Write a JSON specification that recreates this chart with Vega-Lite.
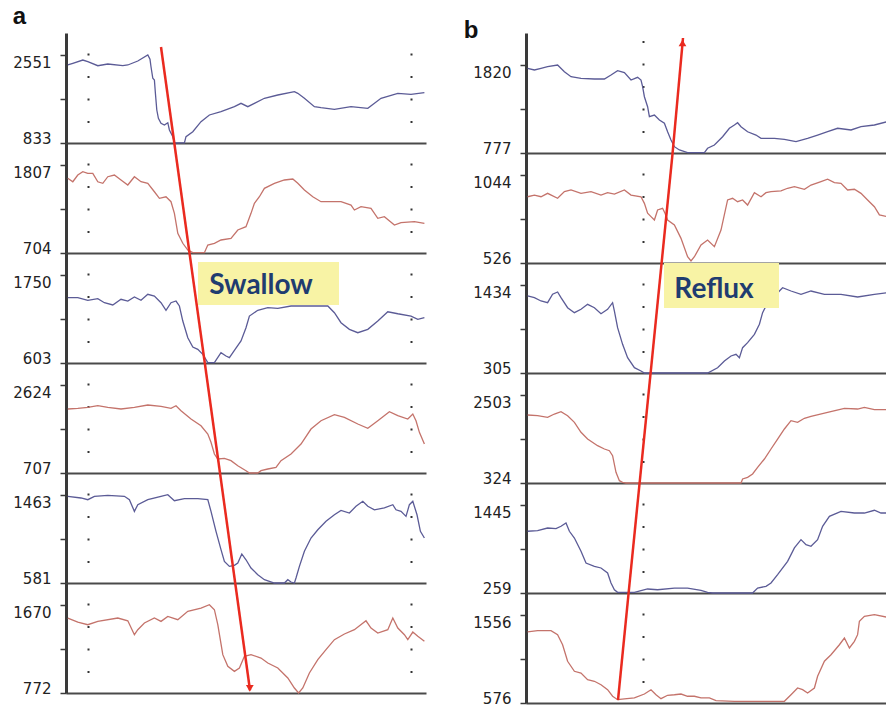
{
"$schema": "https://vega.github.io/schema/vega-lite/v6.json",
"background": "white",
"padding": {"left": 12, "top": 5, "right": 0, "bottom": 0},
"spacing": 36,
"datasets": {
"a1": [{"t":0.19,"v":2356},{"t":0.44,"v":2389},{"t":0.94,"v":2453},{"t":1.19,"v":2420},{"t":1.69,"v":2342},{"t":2.19,"v":2375},{"t":2.94,"v":2342},{"t":3.19,"v":2356},{"t":3.69,"v":2434},{"t":4.19,"v":2551},{"t":4.3,"v":2467},{"t":4.35,"v":2322},{"t":4.44,"v":2096},{"t":4.52,"v":2063},{"t":4.57,"v":1803},{"t":4.64,"v":1477},{"t":4.72,"v":1315},{"t":4.85,"v":1218},{"t":5.02,"v":1184},{"t":5.19,"v":1229},{"t":5.27,"v":1087},{"t":5.44,"v":956},{"t":5.52,"v":835},{"t":6.02,"v":835},{"t":6.1,"v":956},{"t":6.44,"v":1054},{"t":6.85,"v":1249},{"t":7.27,"v":1380},{"t":7.85,"v":1444},{"t":8.52,"v":1542},{"t":8.85,"v":1608},{"t":9.19,"v":1542},{"t":9.52,"v":1608},{"t":10.02,"v":1706},{"t":10.69,"v":1770},{"t":11.52,"v":1834},{"t":11.69,"v":1803},{"t":12.02,"v":1706},{"t":12.52,"v":1542},{"t":12.85,"v":1522},{"t":13.52,"v":1491},{"t":14.35,"v":1542},{"t":15.19,"v":1510},{"t":15.85,"v":1706},{"t":16.69,"v":1803},{"t":17.35,"v":1784},{"t":18.02,"v":1815}],
"a2": [{"t":0.19,"v":1640},{"t":0.44,"v":1597},{"t":0.69,"v":1681},{"t":0.94,"v":1723},{"t":1.19,"v":1703},{"t":1.44,"v":1703},{"t":1.69,"v":1597},{"t":1.94,"v":1577},{"t":2.19,"v":1660},{"t":2.52,"v":1681},{"t":2.85,"v":1619},{"t":3.19,"v":1556},{"t":3.52,"v":1660},{"t":3.85,"v":1597},{"t":4.19,"v":1577},{"t":4.52,"v":1472},{"t":4.77,"v":1389},{"t":5.1,"v":1409},{"t":5.35,"v":1347},{"t":5.52,"v":1201},{"t":5.69,"v":951},{"t":5.94,"v":826},{"t":6.19,"v":741},{"t":6.44,"v":708},{"t":7.02,"v":708},{"t":7.19,"v":804},{"t":7.52,"v":826},{"t":7.85,"v":867},{"t":8.35,"v":888},{"t":8.69,"v":992},{"t":9.1,"v":1034},{"t":9.35,"v":1201},{"t":9.52,"v":1327},{"t":9.77,"v":1409},{"t":10.02,"v":1515},{"t":10.52,"v":1577},{"t":11.02,"v":1619},{"t":11.44,"v":1631},{"t":11.69,"v":1577},{"t":12.02,"v":1493},{"t":12.44,"v":1409},{"t":12.85,"v":1347},{"t":13.85,"v":1347},{"t":14.35,"v":1305},{"t":14.52,"v":1243},{"t":14.85,"v":1284},{"t":15.35,"v":1264},{"t":15.69,"v":1139},{"t":16.02,"v":1159},{"t":16.52,"v":1055},{"t":16.85,"v":1084},{"t":17.52,"v":1096},{"t":18.02,"v":1076}],
"a3": [{"t":0.19,"v":1454},{"t":0.69,"v":1454},{"t":1.19,"v":1420},{"t":1.69,"v":1441},{"t":2.02,"v":1389},{"t":2.44,"v":1359},{"t":2.85,"v":1433},{"t":3.19,"v":1411},{"t":3.52,"v":1463},{"t":3.85,"v":1420},{"t":4.19,"v":1498},{"t":4.52,"v":1476},{"t":4.85,"v":1389},{"t":5.1,"v":1290},{"t":5.35,"v":1389},{"t":5.6,"v":1411},{"t":5.77,"v":1346},{"t":5.94,"v":1150},{"t":6.19,"v":933},{"t":6.44,"v":811},{"t":6.69,"v":781},{"t":6.94,"v":716},{"t":7.19,"v":607},{"t":7.52,"v":607},{"t":7.85,"v":737},{"t":8.1,"v":694},{"t":8.27,"v":672},{"t":8.52,"v":768},{"t":8.85,"v":890},{"t":9.1,"v":1063},{"t":9.27,"v":1215},{"t":9.69,"v":1290},{"t":10.19,"v":1324},{"t":10.69,"v":1316},{"t":11.35,"v":1346},{"t":13.19,"v":1346},{"t":13.52,"v":1258},{"t":13.85,"v":1128},{"t":14.27,"v":1042},{"t":14.69,"v":998},{"t":15.19,"v":1042},{"t":15.69,"v":1150},{"t":16.19,"v":1271},{"t":16.69,"v":1245},{"t":17.35,"v":1215},{"t":17.69,"v":1172},{"t":18.02,"v":1193}],
"a4": [{"t":0.19,"v":2101},{"t":0.69,"v":2116},{"t":1.19,"v":2138},{"t":1.69,"v":2173},{"t":2.19,"v":2138},{"t":2.85,"v":2101},{"t":3.52,"v":2138},{"t":4.19,"v":2188},{"t":4.85,"v":2160},{"t":5.35,"v":2116},{"t":5.6,"v":2173},{"t":5.85,"v":2064},{"t":6.35,"v":1883},{"t":6.85,"v":1737},{"t":7.19,"v":1556},{"t":7.35,"v":1376},{"t":7.52,"v":1121},{"t":7.69,"v":1012},{"t":8.02,"v":1027},{"t":8.35,"v":975},{"t":8.69,"v":866},{"t":9.1,"v":757},{"t":9.27,"v":707},{"t":9.69,"v":707},{"t":9.85,"v":757},{"t":10.19,"v":794},{"t":10.6,"v":831},{"t":10.85,"v":975},{"t":11.35,"v":1121},{"t":11.85,"v":1339},{"t":12.35,"v":1665},{"t":12.85,"v":1846},{"t":13.52,"v":1977},{"t":14.02,"v":1920},{"t":14.69,"v":1774},{"t":15.19,"v":1680},{"t":15.69,"v":1846},{"t":16.27,"v":2042},{"t":16.69,"v":1955},{"t":17.19,"v":1883},{"t":17.44,"v":1992},{"t":17.6,"v":1846},{"t":17.77,"v":1593},{"t":18.02,"v":1339}],
"a5": [{"t":0.19,"v":1450},{"t":0.85,"v":1433},{"t":1.19,"v":1416},{"t":1.52,"v":1450},{"t":2.19,"v":1460},{"t":3.02,"v":1450},{"t":3.27,"v":1416},{"t":3.52,"v":1299},{"t":3.69,"v":1366},{"t":4.19,"v":1416},{"t":4.85,"v":1450},{"t":5.19,"v":1466},{"t":5.52,"v":1406},{"t":6.02,"v":1426},{"t":6.69,"v":1426},{"t":7.19,"v":1416},{"t":7.35,"v":1299},{"t":7.6,"v":1099},{"t":7.85,"v":915},{"t":8.02,"v":798},{"t":8.27,"v":748},{"t":8.52,"v":758},{"t":8.69,"v":781},{"t":8.89,"v":872},{"t":9.1,"v":814},{"t":9.35,"v":731},{"t":9.69,"v":664},{"t":10.02,"v":614},{"t":10.27,"v":598},{"t":10.52,"v":581},{"t":11.02,"v":581},{"t":11.19,"v":614},{"t":11.35,"v":591},{"t":11.52,"v":581},{"t":11.6,"v":631},{"t":11.77,"v":748},{"t":12.02,"v":899},{"t":12.35,"v":1032},{"t":12.69,"v":1115},{"t":13.1,"v":1199},{"t":13.52,"v":1265},{"t":13.85,"v":1309},{"t":14.27,"v":1282},{"t":14.6,"v":1350},{"t":14.94,"v":1400},{"t":15.19,"v":1350},{"t":15.52,"v":1315},{"t":16.02,"v":1333},{"t":16.44,"v":1366},{"t":16.6,"v":1315},{"t":16.85,"v":1299},{"t":17.1,"v":1249},{"t":17.27,"v":1366},{"t":17.44,"v":1400},{"t":17.65,"v":1265},{"t":17.82,"v":1099},{"t":18.02,"v":1032}],
"a6": [{"t":0.19,"v":1537},{"t":0.69,"v":1496},{"t":1.19,"v":1469},{"t":1.69,"v":1503},{"t":2.69,"v":1537},{"t":3.19,"v":1509},{"t":3.52,"v":1367},{"t":3.69,"v":1418},{"t":4.02,"v":1486},{"t":4.52,"v":1537},{"t":4.85,"v":1503},{"t":5.19,"v":1554},{"t":5.69,"v":1520},{"t":6.19,"v":1605},{"t":6.85,"v":1639},{"t":7.27,"v":1673},{"t":7.52,"v":1622},{"t":7.69,"v":1469},{"t":7.94,"v":1163},{"t":8.19,"v":1044},{"t":8.52,"v":993},{"t":8.77,"v":1027},{"t":9.02,"v":1146},{"t":9.35,"v":1163},{"t":9.85,"v":1129},{"t":10.19,"v":1078},{"t":10.69,"v":1027},{"t":11.19,"v":925},{"t":11.52,"v":823},{"t":11.73,"v":772},{"t":11.94,"v":823},{"t":12.27,"v":976},{"t":12.69,"v":1112},{"t":13.1,"v":1214},{"t":13.52,"v":1316},{"t":14.02,"v":1374},{"t":14.52,"v":1418},{"t":15.1,"v":1509},{"t":15.35,"v":1435},{"t":15.69,"v":1384},{"t":16.19,"v":1418},{"t":16.44,"v":1537},{"t":16.69,"v":1435},{"t":17.02,"v":1367},{"t":17.19,"v":1316},{"t":17.44,"v":1394},{"t":17.69,"v":1350},{"t":18.02,"v":1299}],
"b1": [{"t":0.23,"v":1780},{"t":0.57,"v":1761},{"t":0.9,"v":1780},{"t":1.23,"v":1800},{"t":1.73,"v":1820},{"t":2.07,"v":1740},{"t":2.4,"v":1681},{"t":2.9,"v":1662},{"t":3.57,"v":1654},{"t":4.07,"v":1654},{"t":4.4,"v":1701},{"t":4.73,"v":1752},{"t":5.07,"v":1729},{"t":5.4,"v":1642},{"t":5.73,"v":1674},{"t":5.9,"v":1642},{"t":5.98,"v":1563},{"t":6.07,"v":1444},{"t":6.23,"v":1326},{"t":6.32,"v":1207},{"t":6.57,"v":1227},{"t":6.82,"v":1168},{"t":7.07,"v":1129},{"t":7.23,"v":1029},{"t":7.4,"v":931},{"t":7.57,"v":852},{"t":7.82,"v":813},{"t":8.23,"v":781},{"t":9.07,"v":781},{"t":9.23,"v":833},{"t":9.57,"v":872},{"t":9.98,"v":970},{"t":10.32,"v":1070},{"t":10.57,"v":1109},{"t":10.73,"v":1136},{"t":10.9,"v":1089},{"t":11.23,"v":1029},{"t":11.65,"v":990},{"t":11.9,"v":951},{"t":12.57,"v":951},{"t":13.07,"v":939},{"t":13.65,"v":911},{"t":14.23,"v":951},{"t":14.73,"v":990},{"t":15.23,"v":1029},{"t":15.73,"v":1070},{"t":16.4,"v":1050},{"t":16.9,"v":1089},{"t":17.57,"v":1109},{"t":18.2,"v":1148}],
"b2": [{"t":0.23,"v":916},{"t":0.57,"v":926},{"t":0.9,"v":916},{"t":1.23,"v":936},{"t":1.73,"v":907},{"t":2.07,"v":946},{"t":2.4,"v":956},{"t":2.9,"v":936},{"t":3.4,"v":946},{"t":3.9,"v":926},{"t":4.23,"v":940},{"t":4.57,"v":932},{"t":5.07,"v":956},{"t":5.4,"v":926},{"t":5.9,"v":916},{"t":6.07,"v":877},{"t":6.23,"v":819},{"t":6.4,"v":799},{"t":6.57,"v":779},{"t":6.73,"v":838},{"t":6.98,"v":848},{"t":7.1,"v":819},{"t":7.23,"v":779},{"t":7.57,"v":750},{"t":7.9,"v":671},{"t":8.23,"v":563},{"t":8.4,"v":538},{"t":8.57,"v":563},{"t":8.9,"v":632},{"t":9.23,"v":661},{"t":9.57,"v":622},{"t":9.9,"v":720},{"t":10.23,"v":897},{"t":10.48,"v":907},{"t":10.73,"v":887},{"t":10.98,"v":897},{"t":11.23,"v":867},{"t":11.57,"v":940},{"t":11.9,"v":916},{"t":12.15,"v":940},{"t":12.4,"v":946},{"t":12.9,"v":950},{"t":13.23,"v":966},{"t":13.57,"v":975},{"t":14.07,"v":960},{"t":14.4,"v":985},{"t":14.9,"v":1005},{"t":15.23,"v":1019},{"t":15.57,"v":999},{"t":15.9,"v":995},{"t":16.23,"v":956},{"t":16.57,"v":960},{"t":16.9,"v":936},{"t":17.23,"v":897},{"t":17.57,"v":857},{"t":17.82,"v":809},{"t":18.2,"v":799}],
"b3": [{"t":0.23,"v":1293},{"t":0.57,"v":1271},{"t":0.9,"v":1229},{"t":1.23,"v":1207},{"t":1.48,"v":1315},{"t":1.73,"v":1344},{"t":1.9,"v":1271},{"t":2.23,"v":1143},{"t":2.57,"v":1079},{"t":2.9,"v":1122},{"t":3.23,"v":1186},{"t":3.57,"v":1143},{"t":3.9,"v":1066},{"t":4.23,"v":1122},{"t":4.48,"v":1207},{"t":4.57,"v":1100},{"t":4.73,"v":886},{"t":4.98,"v":673},{"t":5.23,"v":501},{"t":5.57,"v":373},{"t":5.9,"v":331},{"t":6.07,"v":305},{"t":9.23,"v":305},{"t":9.73,"v":373},{"t":10.07,"v":459},{"t":10.4,"v":523},{"t":10.65,"v":545},{"t":10.82,"v":501},{"t":10.98,"v":630},{"t":11.23,"v":694},{"t":11.57,"v":801},{"t":11.82,"v":930},{"t":11.98,"v":1079},{"t":12.15,"v":1165},{"t":12.82,"v":1357},{"t":12.98,"v":1399},{"t":13.4,"v":1357},{"t":13.9,"v":1315},{"t":14.4,"v":1357},{"t":15.07,"v":1315},{"t":15.9,"v":1315},{"t":16.73,"v":1280},{"t":17.57,"v":1315},{"t":18.2,"v":1335}],
"b4": [{"t":0.23,"v":2008},{"t":0.73,"v":1990},{"t":1.23,"v":1951},{"t":1.57,"v":2032},{"t":1.9,"v":2089},{"t":2.23,"v":1990},{"t":2.57,"v":1827},{"t":2.9,"v":1579},{"t":3.23,"v":1413},{"t":3.73,"v":1248},{"t":4.07,"v":1166},{"t":4.32,"v":1124},{"t":4.48,"v":1000},{"t":4.65,"v":589},{"t":4.82,"v":381},{"t":4.98,"v":341},{"t":5.15,"v":324},{"t":10.9,"v":324},{"t":10.98,"v":423},{"t":11.23,"v":465},{"t":11.48,"v":547},{"t":11.73,"v":713},{"t":12.07,"v":918},{"t":12.4,"v":1166},{"t":12.73,"v":1413},{"t":13.07,"v":1661},{"t":13.4,"v":1867},{"t":13.73,"v":1827},{"t":14.07,"v":1926},{"t":14.4,"v":1976},{"t":15.23,"v":2075},{"t":16.07,"v":2174},{"t":16.73,"v":2156},{"t":17.07,"v":2198},{"t":17.57,"v":2139},{"t":18.2,"v":2139}],
"b5": [{"t":0.23,"v":1091},{"t":0.73,"v":1099},{"t":1.23,"v":1135},{"t":1.65,"v":1126},{"t":1.9,"v":1158},{"t":2.15,"v":1203},{"t":2.32,"v":1091},{"t":2.57,"v":1000},{"t":2.9,"v":821},{"t":3.15,"v":663},{"t":3.57,"v":619},{"t":3.9,"v":596},{"t":4.23,"v":529},{"t":4.4,"v":394},{"t":4.57,"v":303},{"t":4.73,"v":268},{"t":5.57,"v":268},{"t":6.23,"v":313},{"t":6.73,"v":303},{"t":7.57,"v":326},{"t":8.23,"v":326},{"t":8.9,"v":295},{"t":9.23,"v":268},{"t":9.48,"v":259},{"t":11.48,"v":259},{"t":11.73,"v":326},{"t":12.15,"v":349},{"t":12.4,"v":394},{"t":12.73,"v":506},{"t":13.23,"v":686},{"t":13.57,"v":866},{"t":13.9,"v":978},{"t":14.15,"v":910},{"t":14.4,"v":889},{"t":14.73,"v":978},{"t":14.98,"v":1158},{"t":15.32,"v":1293},{"t":15.9,"v":1360},{"t":16.57,"v":1337},{"t":17.07,"v":1337},{"t":17.57,"v":1374},{"t":17.9,"v":1337},{"t":18.2,"v":1337}],
"b6": [{"t":0.23,"v":1367},{"t":0.73,"v":1381},{"t":1.4,"v":1381},{"t":1.73,"v":1337},{"t":1.98,"v":1225},{"t":2.23,"v":1041},{"t":2.57,"v":929},{"t":2.9,"v":910},{"t":3.23,"v":836},{"t":3.57,"v":818},{"t":3.9,"v":780},{"t":4.23,"v":724},{"t":4.48,"v":651},{"t":4.73,"v":613},{"t":5.07,"v":621},{"t":5.57,"v":632},{"t":6.07,"v":676},{"t":6.4,"v":724},{"t":6.65,"v":668},{"t":6.9,"v":624},{"t":7.23,"v":662},{"t":7.57,"v":668},{"t":7.9,"v":676},{"t":8.23,"v":651},{"t":8.57,"v":651},{"t":8.9,"v":632},{"t":9.32,"v":632},{"t":9.65,"v":602},{"t":10.57,"v":595},{"t":13.07,"v":595},{"t":13.4,"v":668},{"t":13.73,"v":743},{"t":13.98,"v":724},{"t":14.23,"v":687},{"t":14.57,"v":743},{"t":14.73,"v":873},{"t":15.07,"v":1041},{"t":15.4,"v":1114},{"t":15.82,"v":1225},{"t":16.07,"v":1300},{"t":16.32,"v":1189},{"t":16.57,"v":1263},{"t":16.73,"v":1337},{"t":16.82,"v":1486},{"t":17.07,"v":1542},{"t":17.57,"v":1560},{"t":18.2,"v":1531}]
},
"hconcat": [
{
"title": {"text": "a", "anchor": "start", "frame": "bounds", "font": "Liberation Sans", "fontSize": 24, "fontWeight": "bold", "color": "#111", "offset": 4},
"spacing": 0,
"bounds": "flush",
"vconcat": [
{"width": 360, "height": 110, "layer": [
 {"data": {"name": "a1"}, "mark": {"type": "line", "color": "#5b5b96", "strokeWidth": 1.3},
  "encoding": {"x": {"field": "t", "type": "quantitative", "scale": {"domain": [0.1, 18.1], "nice": false, "zero": false}, "axis": {"values": [1.2, 17.35]}},
   "y": {"field": "v", "type": "quantitative", "scale": {"domain": [833, 2980.5], "nice": false, "zero": false}, "axis": {"values": [833, 1262.5, 1692, 2121.5, 2551], "labelExpr": "datum.index == 0 || datum.index == 1 ? format(datum.value, 'd') : ''", "labelBaseline": {"condition": {"test": "datum.index == 1", "value": "top"}, "value": "alphabetic"}}}}},
 {"data": {"values": [{"t": 4.85, "v": 2707, "t2": 5.515, "v2": 833}]}, "mark": {"type": "rule", "color": "#ea2a1f", "strokeWidth": 2.5},
  "encoding": {"x": {"field": "t", "type": "quantitative"}, "y": {"field": "v", "type": "quantitative"}, "x2": {"field": "t2"}, "y2": {"field": "v2"}}}
]},
{"width": 360, "height": 110, "layer": [
 {"data": {"name": "a2"}, "mark": {"type": "line", "color": "#c4736b", "strokeWidth": 1.3},
  "encoding": {"x": {"field": "t", "type": "quantitative", "scale": {"domain": [0.1, 18.1], "nice": false, "zero": false}, "axis": {"values": [1.2, 17.35]}},
   "y": {"field": "v", "type": "quantitative", "scale": {"domain": [704, 2082.75], "nice": false, "zero": false}, "axis": {"values": [704, 979.75, 1255.5, 1531.25, 1807], "labelExpr": "datum.index == 0 || datum.index == 1 ? format(datum.value, 'd') : ''", "labelBaseline": {"condition": {"test": "datum.index == 1", "value": "top"}, "value": "alphabetic"}}}}},
 {"data": {"values": [{"t": 5.515, "v": 2082.75, "t2": 6.275, "v2": 704}]}, "mark": {"type": "rule", "color": "#ea2a1f", "strokeWidth": 2.5},
  "encoding": {"x": {"field": "t", "type": "quantitative"}, "y": {"field": "v", "type": "quantitative"}, "x2": {"field": "t2"}, "y2": {"field": "v2"}}}
]},
{"width": 360, "height": 110, "layer": [
 {"data": {"name": "a3"}, "mark": {"type": "line", "color": "#5b5b96", "strokeWidth": 1.3},
  "encoding": {"x": {"field": "t", "type": "quantitative", "scale": {"domain": [0.1, 18.1], "nice": false, "zero": false}, "axis": {"values": [1.2, 17.35]}},
   "y": {"field": "v", "type": "quantitative", "scale": {"domain": [603, 2036.75], "nice": false, "zero": false}, "axis": {"values": [603, 889.75, 1176.5, 1463.25, 1750], "labelExpr": "datum.index == 0 || datum.index == 1 ? format(datum.value, 'd') : ''", "labelBaseline": {"condition": {"test": "datum.index == 1", "value": "top"}, "value": "alphabetic"}}}}},
 {"data": {"values": [{"t": 6.7, "v": 1919, "t2": 13.75, "v2": 1359}]}, "mark": {"type": "rect", "color": "#f8f3a5", "opacity": 1},
  "encoding": {"x": {"field": "t", "type": "quantitative"}, "y": {"field": "v", "type": "quantitative"}, "x2": {"field": "t2"}, "y2": {"field": "v2"}}},
 {"data": {"values": [{"t": 9.85, "v": 1607, "label": "Swallow"}]}, "mark": {"type": "text", "font": "Lato", "fontWeight": "bold", "fontSize": 28, "color": "#1f3c70"},
  "encoding": {"x": {"field": "t", "type": "quantitative"}, "y": {"field": "v", "type": "quantitative"}, "text": {"field": "label"}}},
 {"data": {"values": [{"t": 6.275, "v": 2036.75, "t2": 7.04, "v2": 603}]}, "mark": {"type": "rule", "color": "#ea2a1f", "strokeWidth": 2.5},
  "encoding": {"x": {"field": "t", "type": "quantitative"}, "y": {"field": "v", "type": "quantitative"}, "x2": {"field": "t2"}, "y2": {"field": "v2"}}}
]},
{"width": 360, "height": 110, "layer": [
 {"data": {"name": "a4"}, "mark": {"type": "line", "color": "#c4736b", "strokeWidth": 1.3},
  "encoding": {"x": {"field": "t", "type": "quantitative", "scale": {"domain": [0.1, 18.1], "nice": false, "zero": false}, "axis": {"values": [1.2, 17.35]}},
   "y": {"field": "v", "type": "quantitative", "scale": {"domain": [707, 3103.25], "nice": false, "zero": false}, "axis": {"values": [707, 1186.25, 1665.5, 2144.75, 2624], "labelExpr": "datum.index == 0 || datum.index == 1 ? format(datum.value, 'd') : ''", "labelBaseline": {"condition": {"test": "datum.index == 1", "value": "top"}, "value": "alphabetic"}}}}},
 {"data": {"values": [{"t": 7.04, "v": 3103.25, "t2": 7.8, "v2": 707}]}, "mark": {"type": "rule", "color": "#ea2a1f", "strokeWidth": 2.5},
  "encoding": {"x": {"field": "t", "type": "quantitative"}, "y": {"field": "v", "type": "quantitative"}, "x2": {"field": "t2"}, "y2": {"field": "v2"}}}
]},
{"width": 360, "height": 110, "layer": [
 {"data": {"name": "a5"}, "mark": {"type": "line", "color": "#5b5b96", "strokeWidth": 1.3},
  "encoding": {"x": {"field": "t", "type": "quantitative", "scale": {"domain": [0.1, 18.1], "nice": false, "zero": false}, "axis": {"values": [1.2, 17.35]}},
   "y": {"field": "v", "type": "quantitative", "scale": {"domain": [581, 1683.5], "nice": false, "zero": false}, "axis": {"values": [581, 801.5, 1022, 1242.5, 1463], "labelExpr": "datum.index == 0 || datum.index == 1 ? format(datum.value, 'd') : ''", "labelBaseline": {"condition": {"test": "datum.index == 1", "value": "top"}, "value": "alphabetic"}}}}},
 {"data": {"values": [{"t": 7.8, "v": 1683.5, "t2": 8.56, "v2": 581}]}, "mark": {"type": "rule", "color": "#ea2a1f", "strokeWidth": 2.5},
  "encoding": {"x": {"field": "t", "type": "quantitative"}, "y": {"field": "v", "type": "quantitative"}, "x2": {"field": "t2"}, "y2": {"field": "v2"}}}
]},
{"width": 360, "height": 110, "layer": [
 {"data": {"name": "a6"}, "mark": {"type": "line", "color": "#c4736b", "strokeWidth": 1.3},
  "encoding": {"x": {"field": "t", "type": "quantitative", "scale": {"domain": [0.1, 18.1], "nice": false, "zero": false}, "axis": {"values": [1.2, 17.35]}},
   "y": {"field": "v", "type": "quantitative", "scale": {"domain": [772, 1894.5], "nice": false, "zero": false}, "axis": {"values": [772, 996.5, 1221, 1445.5, 1670], "labelExpr": "datum.index == 0 || datum.index == 1 ? format(datum.value, 'd') : ''", "labelBaseline": {"condition": {"test": "datum.index == 1", "value": "top"}, "value": "alphabetic"}}}}},
 {"data": {"values": [{"t": 8.56, "v": 1894.5, "t2": 9.3, "v2": 800}]}, "mark": {"type": "rule", "color": "#ea2a1f", "strokeWidth": 2.5},
  "encoding": {"x": {"field": "t", "type": "quantitative"}, "y": {"field": "v", "type": "quantitative"}, "x2": {"field": "t2"}, "y2": {"field": "v2"}}},
 {"data": {"values": [{"t": 9.29, "v": 820}]}, "mark": {"type": "point", "shape": "triangle-down", "filled": true, "color": "#ea2a1f", "size": 60, "opacity": 1},
  "encoding": {"x": {"field": "t", "type": "quantitative"}, "y": {"field": "v", "type": "quantitative"}}}
]}
]
},
{
"title": {"text": "b", "anchor": "start", "frame": "bounds", "font": "Liberation Sans", "fontSize": 24, "fontWeight": "bold", "color": "#111", "offset": 4, "dy": 14, "dx": -9},
"spacing": 0,
"bounds": "flush",
"vconcat": [
{"width": 361, "height": 120, "layer": [
 {"data": {"name": "b1"}, "mark": {"type": "line", "color": "#5b5b96", "strokeWidth": 1.3},
  "encoding": {"x": {"field": "t", "type": "quantitative", "scale": {"domain": [0.15, 18.2], "nice": false, "zero": false}, "axis": {"values": [6.0], "gridDashOffset": 15}},
   "y": {"field": "v", "type": "quantitative", "scale": {"domain": [777, 2199.3], "nice": false, "zero": false}, "axis": {"values": [777, 1037.75, 1298.5, 1559.25, 1820], "labelExpr": "datum.index == 0 || datum.index == 1 ? format(datum.value, 'd') : ''", "labelBaseline": {"condition": {"test": "datum.index == 1", "value": "top"}, "value": "alphabetic"}}}}},
 {"data": {"values": [{"t": 7.48, "v": 777, "t2": 8.0, "v2": 2140}]}, "mark": {"type": "rule", "color": "#ea2a1f", "strokeWidth": 2.5},
  "encoding": {"x": {"field": "t", "type": "quantitative"}, "y": {"field": "v", "type": "quantitative"}, "x2": {"field": "t2"}, "y2": {"field": "v2"}}},
 {"data": {"values": [{"t": 7.975, "v": 2081}]}, "mark": {"type": "point", "shape": "triangle-up", "filled": true, "color": "#ea2a1f", "size": 60, "opacity": 1},
  "encoding": {"x": {"field": "t", "type": "quantitative"}, "y": {"field": "v", "type": "quantitative"}}}
]},
{"width": 361, "height": 110, "layer": [
 {"data": {"name": "b2"}, "mark": {"type": "line", "color": "#c4736b", "strokeWidth": 1.3},
  "encoding": {"x": {"field": "t", "type": "quantitative", "scale": {"domain": [0.15, 18.2], "nice": false, "zero": false}, "axis": {"values": [6.0]}},
   "y": {"field": "v", "type": "quantitative", "scale": {"domain": [526, 1173.5], "nice": false, "zero": false}, "axis": {"values": [526, 655.5, 785, 914.5, 1044], "labelExpr": "datum.index == 0 || datum.index == 1 ? format(datum.value, 'd') : ''", "labelBaseline": {"condition": {"test": "datum.index == 1", "value": "top"}, "value": "alphabetic"}}}}},
 {"data": {"values": [{"t": 6.93, "v": 526, "t2": 7.48, "v2": 1173.5}]}, "mark": {"type": "rule", "color": "#ea2a1f", "strokeWidth": 2.5},
  "encoding": {"x": {"field": "t", "type": "quantitative"}, "y": {"field": "v", "type": "quantitative"}, "x2": {"field": "t2"}, "y2": {"field": "v2"}}}
]},
{"width": 361, "height": 110, "layer": [
 {"data": {"name": "b3"}, "mark": {"type": "line", "color": "#5b5b96", "strokeWidth": 1.3},
  "encoding": {"x": {"field": "t", "type": "quantitative", "scale": {"domain": [0.15, 18.2], "nice": false, "zero": false}, "axis": {"values": [6.0]}},
   "y": {"field": "v", "type": "quantitative", "scale": {"domain": [305, 1716.25], "nice": false, "zero": false}, "axis": {"values": [305, 587.25, 869.5, 1151.75, 1434], "labelExpr": "datum.index == 0 || datum.index == 1 ? format(datum.value, 'd') : ''", "labelBaseline": {"condition": {"test": "datum.index == 1", "value": "top"}, "value": "alphabetic"}}}}},
 {"data": {"values": [{"t": 7.05, "v": 1716, "t2": 12.8, "v2": 1139}]}, "mark": {"type": "rect", "color": "#f8f3a5", "opacity": 1},
  "encoding": {"x": {"field": "t", "type": "quantitative"}, "y": {"field": "v", "type": "quantitative"}, "x2": {"field": "t2"}, "y2": {"field": "v2"}}},
 {"data": {"values": [{"t": 9.55, "v": 1370, "label": "Reflux"}]}, "mark": {"type": "text", "font": "Lato", "fontWeight": "bold", "fontSize": 28, "color": "#1f3c70"},
  "encoding": {"x": {"field": "t", "type": "quantitative"}, "y": {"field": "v", "type": "quantitative"}, "text": {"field": "label"}}},
 {"data": {"values": [{"t": 6.38, "v": 305, "t2": 6.93, "v2": 1716.25}]}, "mark": {"type": "rule", "color": "#ea2a1f", "strokeWidth": 2.5},
  "encoding": {"x": {"field": "t", "type": "quantitative"}, "y": {"field": "v", "type": "quantitative"}, "x2": {"field": "t2"}, "y2": {"field": "v2"}}}
]},
{"width": 361, "height": 110, "layer": [
 {"data": {"name": "b4"}, "mark": {"type": "line", "color": "#c4736b", "strokeWidth": 1.3},
  "encoding": {"x": {"field": "t", "type": "quantitative", "scale": {"domain": [0.15, 18.2], "nice": false, "zero": false}, "axis": {"values": [6.0]}},
   "y": {"field": "v", "type": "quantitative", "scale": {"domain": [324, 3047.75], "nice": false, "zero": false}, "axis": {"values": [324, 868.75, 1413.5, 1958.25, 2503], "labelExpr": "datum.index == 0 || datum.index == 1 ? format(datum.value, 'd') : ''", "labelBaseline": {"condition": {"test": "datum.index == 1", "value": "top"}, "value": "alphabetic"}}}}},
 {"data": {"values": [{"t": 5.83, "v": 324, "t2": 6.38, "v2": 3047.75}]}, "mark": {"type": "rule", "color": "#ea2a1f", "strokeWidth": 2.5},
  "encoding": {"x": {"field": "t", "type": "quantitative"}, "y": {"field": "v", "type": "quantitative"}, "x2": {"field": "t2"}, "y2": {"field": "v2"}}}
]},
{"width": 361, "height": 110, "layer": [
 {"data": {"name": "b5"}, "mark": {"type": "line", "color": "#5b5b96", "strokeWidth": 1.3},
  "encoding": {"x": {"field": "t", "type": "quantitative", "scale": {"domain": [0.15, 18.2], "nice": false, "zero": false}, "axis": {"values": [6.0]}},
   "y": {"field": "v", "type": "quantitative", "scale": {"domain": [259, 1741.5], "nice": false, "zero": false}, "axis": {"values": [259, 555.5, 852, 1148.5, 1445], "labelExpr": "datum.index == 0 || datum.index == 1 ? format(datum.value, 'd') : ''", "labelBaseline": {"condition": {"test": "datum.index == 1", "value": "top"}, "value": "alphabetic"}}}}},
 {"data": {"values": [{"t": 5.28, "v": 259, "t2": 5.83, "v2": 1741.5}]}, "mark": {"type": "rule", "color": "#ea2a1f", "strokeWidth": 2.5},
  "encoding": {"x": {"field": "t", "type": "quantitative"}, "y": {"field": "v", "type": "quantitative"}, "x2": {"field": "t2"}, "y2": {"field": "v2"}}}
]},
{"width": 361, "height": 110, "layer": [
 {"data": {"name": "b6"}, "mark": {"type": "line", "color": "#c4736b", "strokeWidth": 1.3},
  "encoding": {"x": {"field": "t", "type": "quantitative", "scale": {"domain": [0.15, 18.2], "nice": false, "zero": false}, "axis": {"values": [6.0]}},
   "y": {"field": "v", "type": "quantitative", "scale": {"domain": [576, 1801], "nice": false, "zero": false}, "axis": {"values": [576, 821, 1066, 1311, 1556], "labelExpr": "datum.index == 0 || datum.index == 1 ? format(datum.value, 'd') : ''", "labelBaseline": {"condition": {"test": "datum.index == 1", "value": "top"}, "value": "alphabetic"}}}}},
 {"data": {"values": [{"t": 4.75, "v": 609, "t2": 5.28, "v2": 1801}]}, "mark": {"type": "rule", "color": "#ea2a1f", "strokeWidth": 2.5},
  "encoding": {"x": {"field": "t", "type": "quantitative"}, "y": {"field": "v", "type": "quantitative"}, "x2": {"field": "t2"}, "y2": {"field": "v2"}}}
]}
]
}
],
"config": {
 "view": {"stroke": null},
 "axis": {"title": null},
 "axisY": {"domainColor": "#3a3a3a", "domainWidth": 3, "tickColor": "#3a3a3a", "tickWidth": 1.5, "tickSize": 6, "labelFont": "DejaVu Sans", "labelFontSize": 15, "labelColor": "#222", "labelPadding": 9, "labelOverlap": false, "labelFlush": false, "grid": false},
 "axisX": {"domainColor": "#4a4a4a", "domainWidth": 2, "ticks": false, "labels": false, "grid": true, "gridColor": "#333", "gridWidth": 2, "gridDash": [2, 20.5], "gridDashOffset": 2.5, "gridOpacity": 1, "minExtent": 0, "maxExtent": 0}
}
}
